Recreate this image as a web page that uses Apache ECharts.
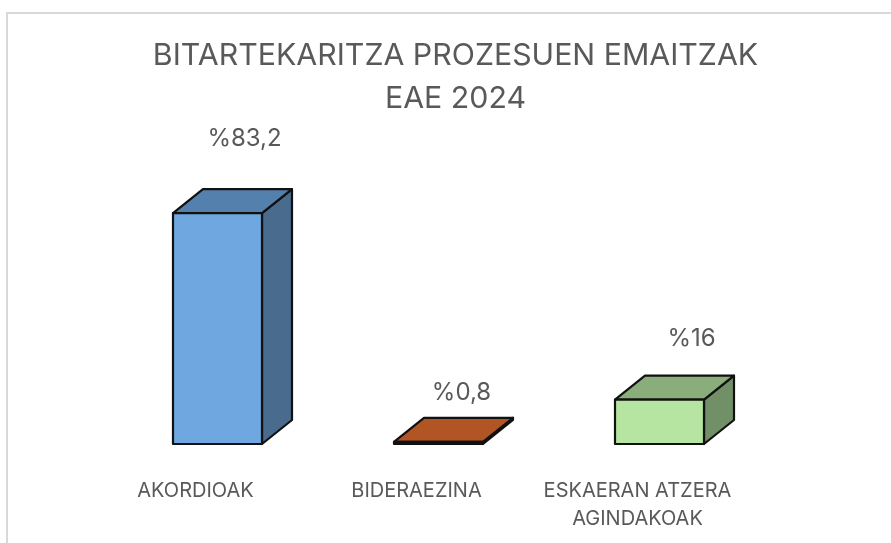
<!DOCTYPE html>
<html>
<head>
<meta charset="utf-8">
<style>
  html, body { margin: 0; padding: 0; background: #fff; }
  #chart { width: 891px; height: 543px; }
</style>
<script src="https://cdn.jsdelivr.net/npm/echarts@6/dist/echarts.min.js"></script>
</head>
<body>
<div id="chart"></div>
<script>
const categories = ["AKORDIOAK", "BIDERAEZINA", "ESKAERAN ATZERA\nAGINDAKOAK"];
const percentValues = [83.2, 0.8, 16];
const percentLabels = ["%83,2", "%0,8", "%16"];

// front / top / side colours of each box
const frontColors = ["#6fa8e0", "#b05523", "#b5e5a0"];
const topColors = ["#5480ad", "#b05523", "#8aae7b"];
const sideColors = ["#486b8e", "#b05523", "#729067"];

// hand placed labels in the original chart
const labelShift = [[27, 74], [23, 49], [32, 61]];

const fontName = "Inter, sans-serif";
const depthX = 30;
const depthY = 24;
const barWidth = 89;

function renderBox(params, api) {
  const i = params.dataIndex;
  const base = api.coord([i, 0]);
  const head = api.coord([i, api.value(1)]);
  const l = base[0] - barWidth / 2;
  const r = base[0] + barWidth / 2;
  const b = base[1];
  const t = head[1];
  const line = { stroke: "#111", lineWidth: 2.2, lineJoin: "round" };
  return {
    type: "group",
    children: [
      {
        type: "polygon",
        shape: { points: [[r, t], [r + depthX, t - depthY], [r + depthX, b - depthY], [r, b]] },
        style: Object.assign({ fill: sideColors[i] }, line),
      },
      {
        type: "polygon",
        shape: { points: [[l, t], [l + depthX, t - depthY], [r + depthX, t - depthY], [r, t]] },
        style: Object.assign({ fill: topColors[i] }, line),
      },
      {
        type: "rect",
        shape: { x: l, y: t, width: barWidth, height: b - t },
        style: Object.assign({ fill: frontColors[i] }, line),
      },
      {
        type: "text",
        x: base[0] + labelShift[i][0],
        y: t - labelShift[i][1],
        style: {
          text: percentLabels[i],
          fill: "#595959",
          font: "24px " + fontName,
          align: "center",
          verticalAlign: "middle",
        },
      },
    ],
  };
}

const chart = echarts.init(document.getElementById("chart"));
chart.setOption({
  animation: false,
  backgroundColor: "#fff",
  title: {
    text: "BITARTEKARITZA PROZESUEN EMAITZAK\nEAE 2024",
    left: 450.5,
    top: 29,
    textAlign: "center",
    textStyle: {
      color: "#595959",
      fontFamily: fontName,
      fontWeight: "normal",
      fontSize: 30.3,
      lineHeight: 43,
    },
  },
  grid: { left: 107, right: 121, top: 100, bottom: 99 },
  xAxis: {
    type: "category",
    data: categories,
    axisLine: { show: false },
    axisTick: { show: false },
    axisLabel: {
      color: "#595959",
      fontFamily: fontName,
      fontSize: 20,
      lineHeight: 28,
      margin: 33,
      padding: [0, 44, 0, 0],
      interval: 0,
    },
  },
  yAxis: {
    type: "value",
    min: 0,
    max: 124,
    show: false,
    splitLine: { show: false },
  },
  series: [
    {
      type: "custom",
      renderItem: renderBox,
      clip: false,
      encode: { x: 0, y: 1 },
      data: percentValues.map((v, i) => [i, v]),
    },
  ],
  graphic: [
    {
      type: "polyline",
      silent: true,
      shape: { points: [[7, 543], [7, 13], [891, 13]] },
      style: { stroke: "#d9d9d9", lineWidth: 2, fill: null },
    },
  ],
});
</script>
</body>
</html>
